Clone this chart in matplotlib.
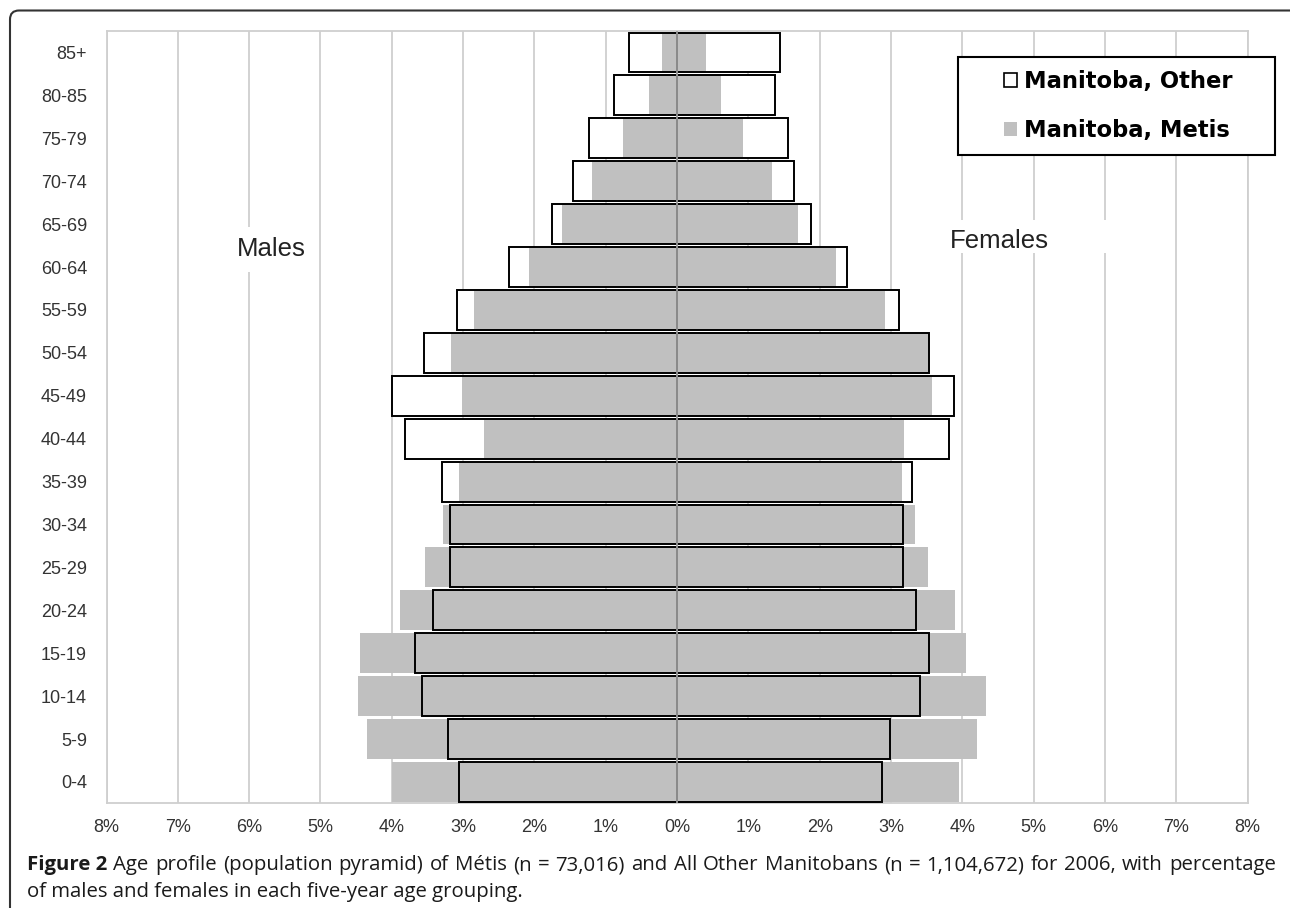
import matplotlib
matplotlib.use("Agg")
import matplotlib.pyplot as plt
from matplotlib.patches import Patch, Rectangle, FancyBboxPatch
from matplotlib.ticker import FuncFormatter, MultipleLocator
from matplotlib.transforms import IdentityTransform
import numpy as np

# ---------------- data ----------------
ages = ["0-4", "5-9", "10-14", "15-19", "20-24", "25-29", "30-34", "35-39", "40-44",
        "45-49", "50-54", "55-59", "60-64", "65-69", "70-74", "75-79", "80-85", "85+"]
male_other = [3.05, 3.21, 3.58, 3.68, 3.42, 3.18, 3.18, 3.29, 3.81,
              4.00, 3.55, 3.08, 2.36, 1.75, 1.46, 1.23, 0.89, 0.67]
male_metis = [4.00, 4.35, 4.47, 4.44, 3.88, 3.54, 3.28, 3.06, 2.71,
              3.01, 3.17, 2.85, 2.08, 1.61, 1.19, 0.76, 0.39, 0.21]
female_other = [2.88, 2.99, 3.41, 3.54, 3.35, 3.17, 3.17, 3.30, 3.81,
                3.89, 3.54, 3.12, 2.38, 1.88, 1.64, 1.56, 1.37, 1.45]
female_metis = [3.96, 4.21, 4.34, 4.05, 3.90, 3.52, 3.34, 3.16, 3.18,
                3.58, 3.53, 2.92, 2.23, 1.70, 1.33, 0.93, 0.62, 0.40]
series_names = ["Manitoba, Other", "Manitoba, Metis"]
caption_bold = "Figure 2"
caption_line1 = ("Age profile (population pyramid) of Métis (n = 73,016) and All Other "
                 "Manitobans (n = 1,104,672) for 2006, with percentage")
caption_line2 = "of males and females in each five-year age grouping."

GREY = "#c0c0c0"
W, H = 1290, 908

fig = plt.figure(figsize=(W / 100, H / 100), dpi=100)
ax = fig.add_axes([106.5 / W, 1 - 803.4 / H, (1247.5 - 106.5) / W, (803.4 - 31.0) / H])

y = np.arange(len(ages))
h = 0.93
mo = -np.array(male_other)
mm = -np.array(male_metis)
fo = np.array(female_other)
fm = np.array(female_metis)

# white fill of "Other", then grey "Metis", then the outline of "Other" on top
ax.barh(y, mo, height=h, color="white", edgecolor="none", zorder=2)
ax.barh(y, fo, height=h, color="white", edgecolor="none", zorder=2)
ax.barh(y, mm, height=h, color=GREY, edgecolor="none", zorder=3)
ax.barh(y, fm, height=h, color=GREY, edgecolor="none", zorder=3)
ax.barh(y, mo, height=h, fill=False, edgecolor="black", linewidth=1.4, zorder=5)
ax.barh(y, fo, height=h, fill=False, edgecolor="black", linewidth=1.4, zorder=5)

ax.set_xlim(-8, 8)
ax.set_ylim(-0.5, len(ages) - 0.5)
ax.xaxis.set_major_locator(MultipleLocator(1))
ax.xaxis.set_major_formatter(FuncFormatter(lambda v, p: f"{abs(v):.0f}%"))
ax.set_yticks(y)
ax.set_yticklabels(ages)
ax.tick_params(axis="both", length=0, labelsize=13, labelcolor="#333333")
ax.tick_params(axis="y", pad=14)
ax.tick_params(axis="x", pad=11)
for lab in ax.get_xticklabels() + ax.get_yticklabels():
    lab.set_fontfamily("Liberation Sans")

ax.grid(axis="x", color="#cfcfcf", linewidth=1.3, zorder=0)
ax.set_axisbelow(True)
ax.axvline(0, color="#999999", linewidth=1.3, zorder=6)
for s in ax.spines.values():
    s.set_color("#cfcfcf")
    s.set_linewidth(1.3)

# white boxes behind the "Males"/"Females" labels (interrupting gridlines)
ax.add_patch(Rectangle((-6.25, 11.89), 1.1, 1.05, facecolor="white", edgecolor="none", zorder=1))
ax.add_patch(Rectangle((3.85, 12.33), 2.4, 0.77, facecolor="white", edgecolor="none", zorder=1))
ax.text(-6.17, 12.42, "Males", fontsize=18.5, family="Liberation Sans", color="#222222",
        ha="left", va="center", zorder=7)
ax.text(3.82, 12.6, "Females", fontsize=18.5, family="Liberation Sans", color="#222222",
        ha="left", va="center", zorder=7)

# legend (frame drawn separately so the entries sit centred in a wider box)
ident = IdentityTransform()
fig.patches.append(Rectangle((958, H - 155), 317, 98, transform=ident,
                             facecolor="white", edgecolor="black", linewidth=1.5, zorder=3))
handles = [Patch(facecolor="white", edgecolor="black", linewidth=1.2),
           Patch(facecolor=GREY, edgecolor="none")]
leg = fig.legend(handles, series_names, loc="center",
                 bbox_to_anchor=(1118 / W, 1 - 106 / H), frameon=False,
                 prop={"family": "DejaVu Sans", "weight": "bold", "size": 16.3},
                 handlelength=0.6, handleheight=0.6, handletextpad=0.3,
                 labelspacing=1.13, borderpad=0.0, borderaxespad=0)
leg.set_zorder(4)

# rounded border around everything (right and bottom edges fall outside the image)
fig.patches.append(FancyBboxPatch((10, -12), 1290, H - 10.5 + 12,
                                  boxstyle="round,pad=0,rounding_size=9",
                                  transform=ident, facecolor="none",
                                  edgecolor="#333333", linewidth=1.5, zorder=0))

# caption, first line fitted and justified
fig.canvas.draw()
renderer = fig.canvas.get_renderer()
cap_font = "Open Sans"
x0, x1 = 27 / W, 1276 / W
y1, y2 = 1 - 865 / H, 1 - 892 / H

def width_of(s, size, weight="normal"):
    t = fig.text(0, 0, s, fontsize=size, family=cap_font, weight=weight)
    wd = t.get_window_extent(renderer).width / W
    t.remove()
    return wd

ref = 10.0
natural = width_of(caption_bold + " ", ref, "bold") + width_of(caption_line1, ref)
cap_size = ref * (x1 - x0) / natural * 0.985

bw = width_of(caption_bold, cap_size, "bold")
fig.text(x0, y1, caption_bold, fontsize=cap_size, family=cap_font, weight="bold",
         color="#1a1a1a", va="center", ha="left")
words = caption_line1.split(" ")
widths = [width_of(w_, cap_size) for w_ in words]
gap = (x1 - x0 - bw - sum(widths)) / len(words)
xpos = x0 + bw + gap
for w_, wd in zip(words, widths):
    fig.text(xpos, y1, w_, fontsize=cap_size, family=cap_font, color="#1a1a1a",
             va="center", ha="left")
    xpos += wd + gap
fig.text(x0, y2, caption_line2, fontsize=cap_size, family=cap_font, color="#1a1a1a",
         va="center", ha="left")

fig.savefig("out.png", dpi=100)
